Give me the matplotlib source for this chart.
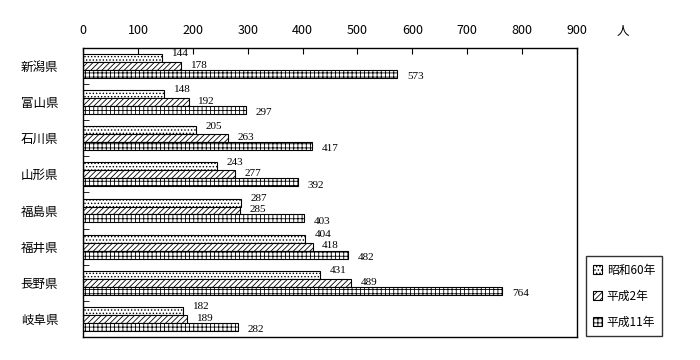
import numpy as np
import matplotlib.pyplot as plt

plt.rcParams['font.family'] = ['Noto Sans CJK JP', 'DejaVu Sans']
plt.rcParams['hatch.linewidth'] = 0.6

# prefectures, top to bottom
prefs = ['新潟県', '富山県', '石川県', '山形県', '福島県', '福井県', '長野県', '岐阜県']
s60 = [144, 148, 205, 243, 287, 404, 431, 182]   # 昭和60年
h2 = [178, 192, 263, 277, 285, 418, 489, 189]    # 平成2年
h11 = [573, 297, 417, 392, 403, 482, 764, 282]   # 平成11年
series_names = ['昭和60年', '平成2年', '平成11年']
hatches = ['.....', '//////', '++++']

fig = plt.figure(figsize=(7, 3.6), dpi=100)
ax = fig.add_axes([0.119, 0.064, 0.705, 0.803])

y = np.arange(len(prefs))
h = 0.22
offsets = [-h, 0, h]
label_dy = [3, 0.5, -2]  # spread value labels a little so they don't collide
for vals, name, hat, off, dy in zip([s60, h2, h11], series_names, hatches, offsets, label_dy):
    bars = ax.barh(y + off, vals, height=h, color='white', edgecolor='black',
                   linewidth=0.8, hatch=hat, label=name)
    for b, v in zip(bars, vals):
        ax.annotate(str(v), (v, b.get_y() + b.get_height() / 2),
                    xytext=(7, dy), textcoords='offset points',
                    va='center', ha='left', fontsize=8, family='Liberation Serif')

ax.set_xlim(0, 900)
ax.set_ylim(len(prefs) - 0.5, -0.5)
ax.set_xticks(np.arange(0, 1000, 100))
ax.xaxis.tick_top()
ax.tick_params(axis='x', direction='in', length=4, labelsize=9, pad=8)
ax.set_yticks(y)
ax.set_yticklabels(prefs, fontsize=9)
ax.tick_params(axis='y', which='major', length=0, pad=18)
ax.set_yticks(np.arange(len(prefs)) - 0.5, minor=True)
ax.tick_params(axis='y', which='minor', direction='in', length=4)
for sp in ax.spines.values():
    sp.set_linewidth(1.0)
fig.text(623 / 700, 1 - 32 / 360, '人', fontsize=9, ha='center', va='center')

leg = ax.legend(loc='center', bbox_to_anchor=(624 / 700, 1 - 296 / 360),
                bbox_transform=fig.transFigure, fontsize=8.5, frameon=True,
                fancybox=False, edgecolor='black', handlelength=0.8,
                handleheight=0.8, handletextpad=0.4, labelspacing=1.1,
                borderpad=0.6)
leg.get_frame().set_linewidth(1.0)

fig.savefig('out.png')
